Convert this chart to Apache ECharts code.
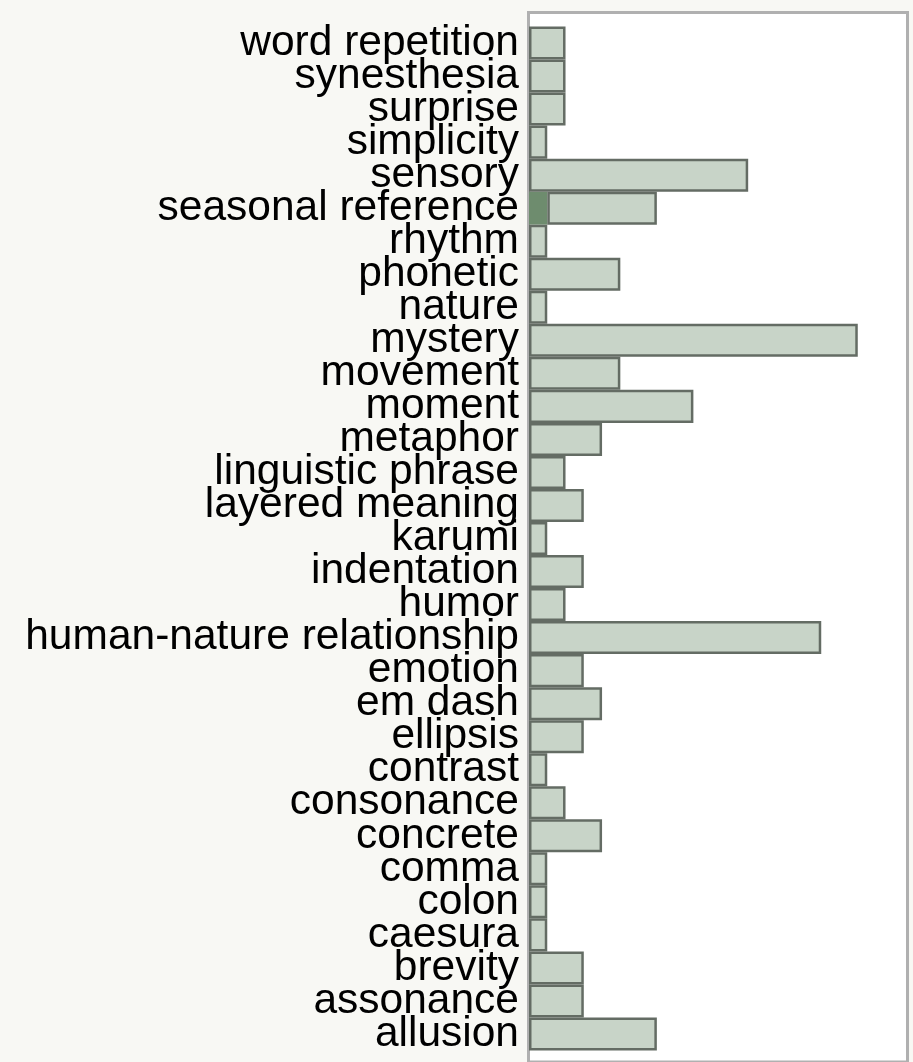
<!DOCTYPE html>
<html><head><meta charset="utf-8">
<script src="https://cdn.jsdelivr.net/npm/echarts@6/dist/echarts.min.js"></script>
<style>html,body{margin:0;padding:0;background:#f8f8f4;}#c{width:913px;height:1062px;}</style>
</head><body><div id="c"></div>
<script>
const categories = ["allusion","assonance","brevity","caesura","colon","comma","concrete","consonance","contrast","ellipsis","em dash","emotion","human-nature relationship","humor","indentation","karumi","layered meaning","linguistic phrase","metaphor","moment","movement","mystery","nature","phonetic","rhythm","seasonal reference","sensory","simplicity","surprise","synesthesia","word repetition"];
const highlightValues = [0,0,0,0,0,0,0,0,0,0,0,0,0,0,0,0,0,0,0,0,0,0,0,0,0,1,0,0,0,0,0];
const baseValues      = [7,3,3,1,1,1,4,2,1,3,4,3,16,2,3,1,3,2,4,9,5,18,1,5,1,6,12,1,2,2,2];

const chart = echarts.init(document.getElementById('c'), null, {renderer:'canvas'});
chart.setOption({
  backgroundColor: '#f8f8f4',
  animation: false,
  grid: [
    {left: 528.5, top: 12.5, right: 5.5, bottom: -6, show: true, backgroundColor: '#ffffff', borderColor: '#b0b0b0', borderWidth: 3, containLabel: false},
    {left: 529, top: 26.5, right: 5, height: 1024, containLabel: false}
  ],
  xAxis: [
    {gridIndex: 0, type: 'value', show: false, min: 0, max: 1},
    {gridIndex: 1, type: 'value', show: false, min: 0, max: 20.75}
  ],
  yAxis: [
    {gridIndex: 0, type: 'value', show: false, min: 0, max: 1},
    {gridIndex: 1, type: 'category', data: categories,
     axisLine: {show: false}, axisTick: {show: false}, splitLine: {show: false},
     axisLabel: {color: '#000', fontSize: 42.5, fontFamily: 'Liberation Sans, Arial, sans-serif', margin: 10, interval: 0, lineHeight: 34}}
  ],
  series: [
    {type: 'bar', xAxisIndex: 1, yAxisIndex: 1, stack: 's', data: highlightValues, barCategoryGap: 0,
     itemStyle: {color: '#6e8c6e', borderWidth: 0}},
    {type: 'bar', xAxisIndex: 1, yAxisIndex: 1, stack: 's', data: baseValues, barCategoryGap: 0,
     itemStyle: {color: '#c8d4c8', borderColor: '#646c64', borderWidth: 2.5}}
  ]
});
</script></body></html>
